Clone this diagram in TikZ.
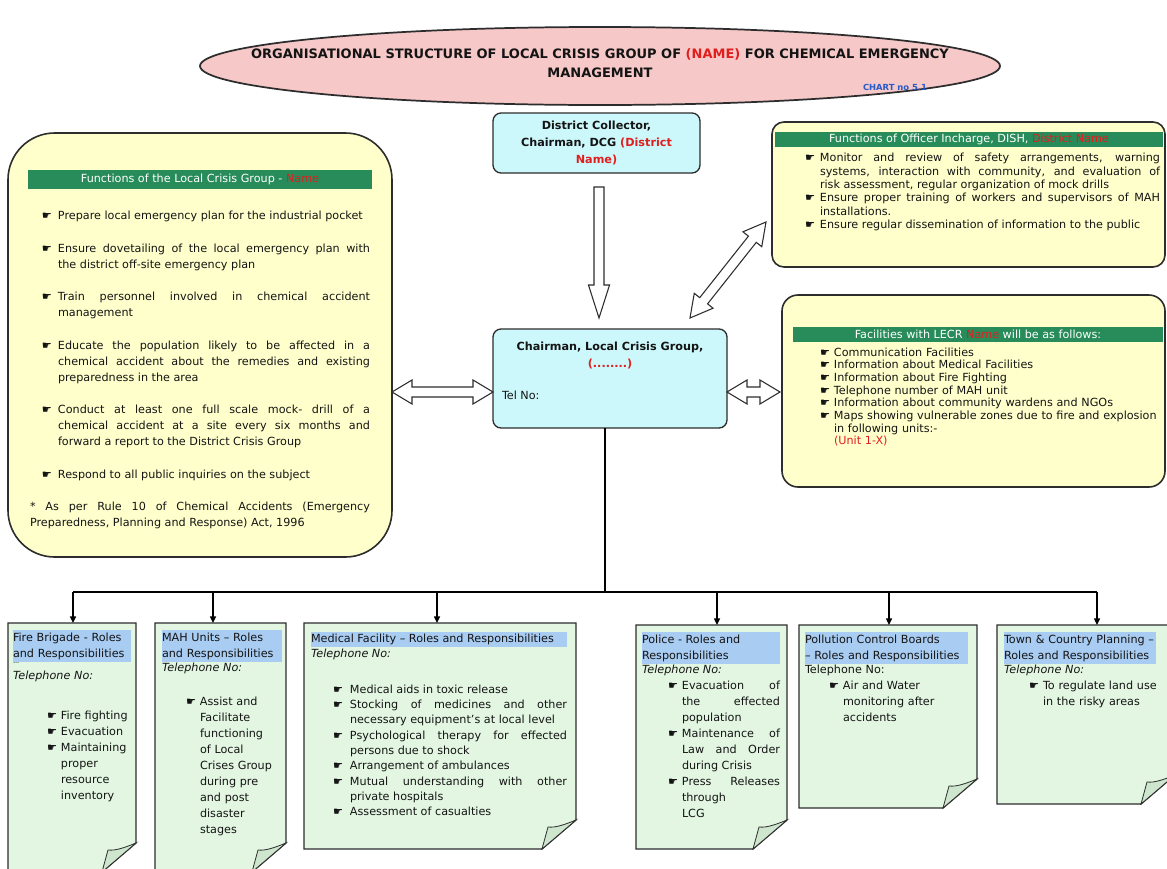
\documentclass[tikz,border=0pt]{standalone}
\usepackage{fontspec}
\setmainfont{DejaVu Sans}
\usetikzlibrary{calc,arrows.meta,shapes.geometric}

\definecolor{pinkfill}{RGB}{246,200,200}
\definecolor{cyanfill}{RGB}{204,247,251}
\definecolor{yellowfill}{RGB}{255,255,204}
\definecolor{greenbar}{RGB}{40,140,90}
\definecolor{docfill}{RGB}{226,246,226}
\definecolor{foldfill}{RGB}{205,230,205}
\definecolor{hlblue}{RGB}{168,204,242}
\definecolor{redtxt}{RGB}{225,30,30}
\definecolor{bluetxt}{RGB}{40,90,200}
\definecolor{edge}{RGB}{45,45,45}
\definecolor{textcol}{RGB}{20,20,20}

\newcommand\bodyfont{\fontsize{8.4pt}{12pt}\selectfont}
\newcommand\titlefont{\bfseries\fontsize{9.75pt}{14.25pt}\selectfont}
\newcommand\hand{☛}
\newcommand\bul[3]{\par\leftskip=#1\relax\hangindent=#2\relax\hangafter=1\noindent\hbox to #2{\hand\hss}#3\par}
\newcommand\hlhead[2]{\par\noindent{\setlength{\fboxsep}{0pt}\colorbox{hlblue}{\parbox[t]{#1}{\raggedright\strut #2\strut}}}\par}

\newcommand\dblarrow[5]{%
 \coordinate (#1h) at ($(#1)!#5!(#2)$);
 \coordinate (#2h) at ($(#2)!#5!(#1)$);
 \filldraw[hollow] (#1) -- ($(#1h)!#4!90:(#2)$) -- ($(#1h)!#3!90:(#2)$) -- ($(#2h)!#3!-90:(#1)$) -- ($(#2h)!#4!-90:(#1)$) -- (#2) -- ($(#2h)!#4!90:(#1)$) -- ($(#2h)!#3!90:(#1)$) -- ($(#1h)!#3!-90:(#2)$) -- ($(#1h)!#4!-90:(#2)$) -- cycle;
}
\newcommand\sglarrow[5]{%
 \coordinate (#2h) at ($(#2)!#5!(#1)$);
 \filldraw[hollow] ($(#1)!#3!90:(#2)$) -- ($(#2h)!#3!-90:(#1)$) -- ($(#2h)!#4!-90:(#1)$) -- (#2) -- ($(#2h)!#4!90:(#1)$) -- ($(#2h)!#3!90:(#1)$) -- ($(#1)!#3!-90:(#2)$) -- cycle;
}
\newcommand\docbox[1]{%
 \draw[docline] (#1.north west) -- (#1.north east) -- ($(#1.south east)+(0,-29)$) -- ($(#1.south east)+(-34,0)$) -- (#1.south west) -- cycle;
 \draw[foldst] ($(#1.south east)+(0,-29)$) .. controls ($(#1.south east)+(-10,-25)$) and ($(#1.south east)+(-20,-21)$) .. ($(#1.south east)+(-28,-22)$) -- ($(#1.south east)+(-34,0)$) -- cycle;
}

\tikzset{
 base/.style={inner sep=0pt, outer sep=0pt},
 yelbox/.style={base, draw=edge, line width=1.2pt, fill=yellowfill},
 cyanbox/.style={base, draw=edge, line width=1pt, fill=cyanfill, rounded corners=6pt},
 gbar/.style={base, fill=greenbar, text=white, font=\bodyfont},
 body/.style={base, font=\bodyfont, text=textcol},
 hollow/.style={draw=edge, fill=white, line width=0.8pt, line join=miter},
 tree/.style={draw=black, line width=1pt},
 drop/.style={tree, -{Triangle[length=5pt,width=4.5pt]}},
 docline/.style={draw=edge, line width=1pt, fill=docfill},
 foldst/.style={draw=edge, line width=0.6pt, fill=foldfill},
}

\begin{document}
\begin{tikzpicture}[x=0.75pt,y=-0.75pt]
\useasboundingbox (0,0) rectangle (1167,868);
\fill[white] (0,0) rectangle (1167,868);

% title
\node[base, ellipse, draw=edge, line width=1.3pt, fill=pinkfill, minimum width=600pt, minimum height=58.5pt] (title) at (600,66) {};
\node[base, font=\titlefont, align=center, text=textcol] (titletxt) at (600,63.5) {ORGANISATIONAL STRUCTURE OF LOCAL CRISIS GROUP OF \textcolor{redtxt}{(NAME)} FOR CHEMICAL EMERGENCY\\MANAGEMENT};
\node[base, font=\bfseries\fontsize{6.3pt}{7pt}\selectfont, text=bluetxt] (chart) at (895,87) {CHART no 5.1};

% district collector
\node[cyanbox, minimum width=155.25pt, minimum height=45pt, font=\bfseries\fontsize{8.4pt}{12.4pt}\selectfont, align=center, text=textcol] (dc) at (596.5,143) {District Collector,\\Chairman, DCG \textcolor{redtxt}{(District}\\\textcolor{redtxt}{Name)}};

% chairman LCG
\node[cyanbox, minimum width=175.5pt, minimum height=74.25pt] (lcg) at (610,378.5) {};
\node[base, font=\bfseries\bodyfont, text=textcol] (lcgtitle) at (610,347) {Chairman, Local Crisis Group,};
\node[base, font=\bfseries\bodyfont, text=redtxt] (lcgdots) at (610,364) {(........)};
\node[base, font=\bodyfont, text=textcol, anchor=west] (lcgtel) at (502,395) {Tel No:};

% left box
\node[yelbox, rounded corners=35pt, minimum width=288pt, minimum height=318pt, anchor=north west] (lcgfun) at (8,133) {};
\node[gbar, minimum width=258pt, minimum height=14.25pt, anchor=north west] (lcghead) at (28,170) {Functions of the Local Crisis Group - \textcolor{redtxt}{Name}};
\node[body, text width=255pt, align=justify, anchor=north west] (lcgbody) at (30,187) {%
\setlength{\parskip}{12.4pt}%
\bul{9pt}{12pt}{Prepare local emergency plan for the industrial pocket}%
\bul{9pt}{12pt}{Ensure dovetailing of the local emergency plan with\linebreak the district off-site emergency plan}%
\bul{9pt}{12pt}{Train personnel involved in chemical accident\linebreak management}%
\bul{9pt}{12pt}{Educate the population likely to be affected in a\linebreak chemical accident about the remedies and existing\linebreak preparedness in the area}%
\bul{9pt}{12pt}{Conduct at least one full scale mock- drill of a\linebreak chemical accident at a site every six months and\linebreak forward a report to the District Crisis Group}%
\bul{9pt}{12pt}{Respond to all public inquiries on the subject}%
\leftskip=0pt\noindent * As per Rule 10 of Chemical Accidents (Emergency\linebreak Preparedness, Planning and Response) Act, 1996\par};

% right top box
\node[yelbox, rounded corners=9pt, minimum width=294.75pt, minimum height=108.75pt, anchor=north west] (off) at (772,122) {};
\node[gbar, minimum width=291pt, minimum height=11.25pt, anchor=north west] (offhead) at (775,132) {Functions of Officer Incharge, DISH, \textcolor{redtxt}{District Name}};
\node[body, font=\fontsize{8.4pt}{10pt}\selectfont, text width=266.25pt, align=justify, anchor=north west] (offbody) at (805,148.5) {%
\bul{0pt}{11.25pt}{Monitor and review of safety arrangements, warning\linebreak systems, interaction with community, and evaluation of\linebreak risk assessment, regular organization of mock drills}%
\bul{0pt}{11.25pt}{Ensure proper training of workers and supervisors of MAH\linebreak installations.}%
\bul{0pt}{11.25pt}{Ensure regular dissemination of information to the public}};

% right middle box
\node[yelbox, rounded corners=12pt, minimum width=287.25pt, minimum height=144pt, anchor=north west] (fac) at (782,295) {};
\node[gbar, minimum width=277.5pt, minimum height=11.25pt, anchor=north west] (fachead) at (793,327) {Facilities with LECR \textcolor{redtxt}{Name} will be as follows:};
\node[body, font=\fontsize{8.4pt}{9.5pt}\selectfont, text width=265pt, align=left, anchor=north west] (facbody) at (820,343.5) {%
\bul{0pt}{10.5pt}{Communication Facilities}%
\bul{0pt}{10.5pt}{Information about Medical Facilities}%
\bul{0pt}{10.5pt}{Information about Fire Fighting}%
\bul{0pt}{10.5pt}{Telephone number of MAH unit}%
\bul{0pt}{10.5pt}{Information about community wardens and NGOs}%
\bul{0pt}{10.5pt}{Maps showing vulnerable zones due to fire and explosion\newline in following units:-\newline \textcolor{redtxt}{(Unit 1-X)}}};

% block arrows
\coordinate (ua) at ($(dc.south)+(2.5,14)$);
\coordinate (ub) at ($(ua |- lcg.north)+(0,-11)$);
\sglarrow{ua}{ub}{3.75pt}{7.9pt}{24.75pt}
\coordinate (la) at ($(lcg.west)+(0,13.5)$);
\coordinate (lb) at (lcgfun.east |- la);
\dblarrow{lb}{la}{3.75pt}{9pt}{15pt}
\coordinate (ra) at ($(lcg.east)+(0,13.5)$);
\coordinate (rb) at ($(fac.west |- ra)+(-2,0)$);
\dblarrow{ra}{rb}{3.75pt}{9pt}{15pt}
\coordinate (da) at ($(lcg.north east)+(-37,-11)$);
\coordinate (db) at ($(off.south west)+(-6,-45)$);
\dblarrow{da}{db}{3.75pt}{9pt}{16.5pt}

% bottom boxes
\node[base, minimum width=96pt, minimum height=186.75pt, anchor=north west] (fire) at (8,623) {};
\node[base, minimum width=98.25pt, minimum height=186.75pt, anchor=north west] (mah) at (155,623) {};
\node[base, minimum width=204pt, minimum height=169.5pt, anchor=north west] (med) at (304,623) {};
\node[base, minimum width=113.25pt, minimum height=168pt, anchor=north west] (pol) at (636,625) {};
\node[base, minimum width=133.5pt, minimum height=137.25pt, anchor=north west] (pcb) at (799,625) {};
\node[base, minimum width=133.5pt, minimum height=134.25pt, anchor=north west] (town) at (997,625) {};
\docbox{fire}
\docbox{mah}
\docbox{med}
\docbox{pol}
\docbox{pcb}
\docbox{town}

\node[body, text width=90pt, align=left, anchor=north west] (firetxt) at (13,625) {%
\hlhead{88.5pt}{Fire Brigade - Roles\\and Responsibilities}%
\noindent{\fontsize{5pt}{6pt}\selectfont ...}\par
\noindent\textit{Telephone No:}\par
\vspace{18pt}%
\bul{25.5pt}{10.5pt}{Fire fighting}%
\bul{25.5pt}{10.5pt}{Evacuation}%
\bul{25.5pt}{10.5pt}{Maintaining\newline proper\newline resource\newline inventory}};

\node[body, text width=92pt, align=left, anchor=north west] (mahtxt) at (162,625) {%
\hlhead{90pt}{MAH Units – Roles\\and Responsibilities}%
\noindent\textit{Telephone No:}\par
\vspace{13.5pt}%
\bul{18pt}{10.5pt}{Assist and\newline Facilitate\newline functioning\newline of Local\newline Crises Group\newline during pre\newline and post\newline disaster\newline stages}};

\node[body, font=\fontsize{8.4pt}{11.5pt}\selectfont, text width=192pt, align=justify, anchor=north west] (medtxt) at (311,627) {%
\hlhead{192pt}{Medical Facility – Roles and Responsibilities}%
\noindent\textit{Telephone No:}\par
\vspace{15pt}%
\bul{16.5pt}{12.75pt}{Medical aids in toxic release}%
\bul{16.5pt}{12.75pt}{Stocking of medicines and other\linebreak necessary equipment's at local level}%
\bul{16.5pt}{12.75pt}{Psychological therapy for effected\linebreak persons due to shock}%
\bul{16.5pt}{12.75pt}{Arrangement of ambulances}%
\bul{16.5pt}{12.75pt}{Mutual understanding with other\linebreak private hospitals}%
\bul{16.5pt}{12.75pt}{Assessment of casualties}};

\node[body, text width=103.5pt, align=justify, anchor=north west] (poltxt) at (642,627) {%
\hlhead{103.5pt}{Police - Roles and\\Responsibilities}%
\noindent\textit{Telephone No:}\par
\bul{19.5pt}{10.5pt}{Evacuation of\linebreak the effected\linebreak population}%
\bul{19.5pt}{10.5pt}{Maintenance of\linebreak Law and Order\linebreak during Crisis}%
\bul{19.5pt}{10.5pt}{Press Releases\linebreak through\linebreak LCG}};

\node[body, text width=125pt, align=left, anchor=north west] (pcbtxt) at (805,627) {%
\hlhead{122.25pt}{Pollution Control Boards\\– Roles and Responsibilities}%
\noindent Telephone No:\par
\bul{18pt}{10.5pt}{Air and Water\newline monitoring after\newline accidents}};

\node[body, text width=120pt, align=left, anchor=north west] (towntxt) at (1004,627) {%
\hlhead{114pt}{Town \& Country Planning –\\Roles and Responsibilities}%
\noindent\textit{Telephone No:}\par
\bul{18.75pt}{10.5pt}{To regulate land use\newline in the risky areas}};

% tree connectors
\coordinate (bus) at (605,592);
\coordinate (d1) at (73,592);
\coordinate (d2) at (213,592);
\coordinate (d3) at (437,592);
\coordinate (d4) at (717,592);
\coordinate (d5) at (889,592);
\coordinate (d6) at (1097,592);
\draw[tree] (lcg.south -| bus) -- (bus);
\draw[tree] (d1) -- (d6);
\draw[drop] (d1) -- (d1 |- fire.north);
\draw[drop] (d2) -- (d2 |- mah.north);
\draw[drop] (d3) -- (d3 |- med.north);
\draw[drop] (d4) -- (d4 |- pol.north);
\draw[drop] (d5) -- (d5 |- pcb.north);
\draw[drop] (d6) -- (d6 |- town.north);
\end{tikzpicture}
\end{document}
